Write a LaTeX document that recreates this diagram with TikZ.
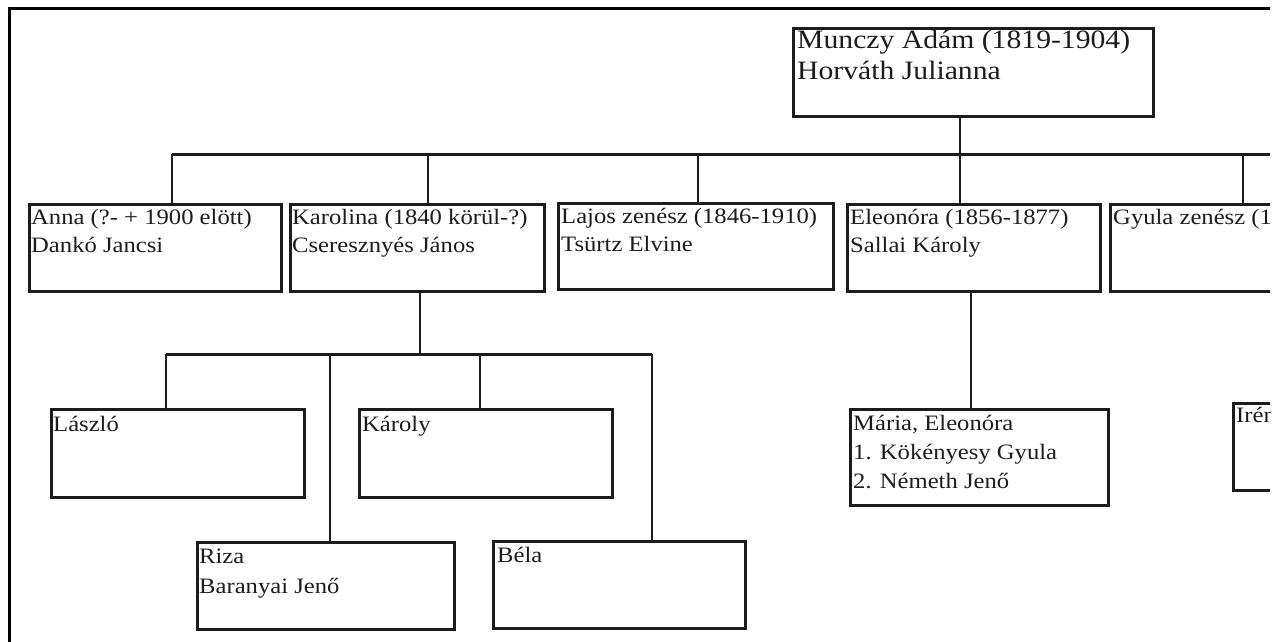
\documentclass[tikz,border=0pt]{standalone}
\usepackage{fontspec}
\setmainfont{Liberation Serif}[FakeStretch=1.12]
\begin{document}
\definecolor{ink}{HTML}{1C1C1C}
\begin{tikzpicture}[x=1pt,y=-1pt,
  famBox/.style={draw=ink, line width=2.6pt, rectangle, inner sep=0pt, anchor=north west},
  txt/.style={anchor=base west, inner sep=0pt, text=ink, font=\fontsize{22}{26}\selectfont},
  bigtxt/.style={txt, font=\fontsize{26.5}{30}\selectfont},
  conn/.style={draw=ink, line width=2.4pt},
  bus/.style={draw=ink, line width=3pt},
  frameline/.style={draw=black, line width=3.2pt}]
\useasboundingbox (0,0) rectangle (1280,641);
\begin{scope}
\clip (0,0) rectangle (1270,641);
% frame
\coordinate (fTL) at (9.5,8.5);
\coordinate (fTR) at (1290,8.5);
\coordinate (fBL) at (9.5,660);
\draw[frameline] (fTR) -- (fTL) -- (fBL);

% boxes
\node[famBox, minimum width=360pt, minimum height=88pt] (top) at (792,27) {};
\node[famBox, minimum width=252pt, minimum height=87pt] (anna) at (28,203) {};
\node[famBox, minimum width=254pt, minimum height=87pt] (karolina) at (289,203) {};
\node[famBox, minimum width=275pt, minimum height=86pt] (lajos) at (557,202) {};
\node[famBox, minimum width=253pt, minimum height=87pt] (eleonora) at (846,203) {};
\node[famBox, minimum width=200pt, minimum height=87pt] (gyula) at (1109,203) {};
\node[famBox, minimum width=253pt, minimum height=88pt] (laszlo) at (50,408) {};
\node[famBox, minimum width=253pt, minimum height=88pt] (karoly) at (358,408) {};
\node[famBox, minimum width=257pt, minimum height=87pt] (riza) at (196,541) {};
\node[famBox, minimum width=252pt, minimum height=87pt] (bela) at (492,540) {};
\node[famBox, minimum width=258pt, minimum height=96pt] (maria) at (849,408) {};
\node[famBox, minimum width=100pt, minimum height=87pt] (iren) at (1232,402) {};

% texts
\node[bigtxt] (topA) at (797,48) {Munczy Adám (1819-1904)};
\node[bigtxt] (topB) at (797,79) {Horváth Julianna};
\node[txt] (annaA) at (31,224) {Anna (?- + 1900 elött)};
\node[txt] (annaB) at (31,252) {Dankó Jancsi};
\node[txt] (karA) at (292,224) {Karolina (1840 körül-?)};
\node[txt] (karB) at (292,252) {Cseresznyés János};
\node[txt] (lajA) at (561,223) {Lajos zenész (1846-1910)};
\node[txt] (lajB) at (561,251) {Tsürtz Elvine};
\node[txt] (eleA) at (850,224) {Eleonóra (1856-1877)};
\node[txt] (eleB) at (850,252) {Sallai Károly};
\node[txt] (gyuA) at (1113,224) {Gyula zenész (1};
\node[txt] (lasA) at (53,431) {László};
\node[txt] (karoA) at (362,431) {Károly};
\node[txt] (rizA) at (199,563) {Riza};
\node[txt] (rizB) at (199,593) {Baranyai Jenő};
\node[txt] (belA) at (497,562) {Béla};
\node[txt] (marA) at (853,430) {Mária, Eleonóra};
\node[txt] (marB) at (853,459) {1. Kökényesy Gyula};
\node[txt] (marC) at (853,488) {2. Németh Jenő};
\node[txt] (irA) at (1236,422) {Irén};

% main bus
\coordinate (b0) at (960,154);
\coordinate (bL) at (172,154);
\coordinate (bR) at (1290,154);
\coordinate (b2) at (428,154);
\coordinate (b3) at (698,154);
\coordinate (b5) at (1243,154);
\draw[conn] (top.south -| b0) -- (b0);
\draw[bus] (bL) -- (bR);
\draw[conn] (bL) -- (anna.north -| bL);
\draw[conn] (b2) -- (karolina.north -| b2);
\draw[conn] (b3) -- (lajos.north -| b3);
\draw[conn] (b0) -- (eleonora.north -| b0);
\draw[conn] (b5) -- (gyula.north -| b5);

% Karolina's children
\coordinate (k0) at (420,354);
\coordinate (kL) at (166,354);
\coordinate (kR) at (652,354);
\coordinate (k2) at (330,354);
\coordinate (k3) at (480,354);
\draw[conn] (karolina.south -| k0) -- (k0);
\draw[bus] (kL) -- (kR);
\draw[conn] (kL) -- (laszlo.north -| kL);
\draw[conn] (k2) -- (riza.north -| k2);
\draw[conn] (k3) -- (karoly.north -| k3);
\draw[conn] (kR) -- (bela.north -| kR);

% Eleonora's children
\coordinate (e0) at (971,290);
\draw[conn] (e0) -- (maria.north -| e0);
\end{scope}
\end{tikzpicture}
\end{document}
